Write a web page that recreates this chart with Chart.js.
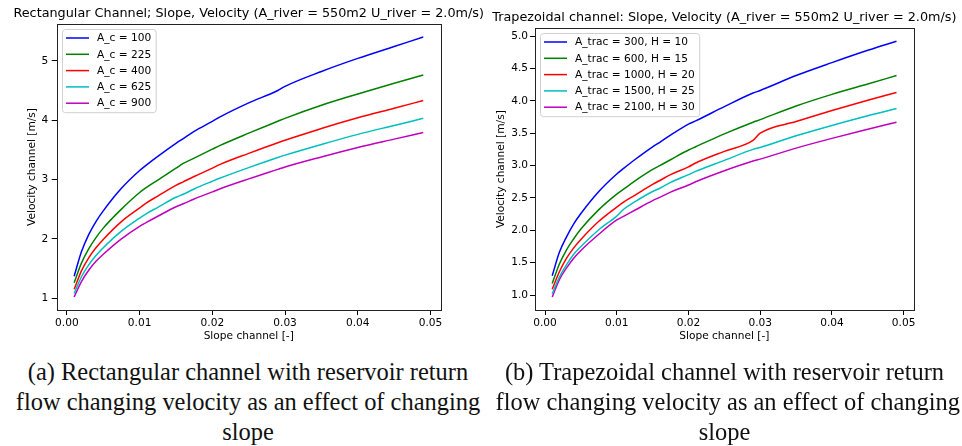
<!DOCTYPE html>
<html>
<head>
<meta charset="utf-8">
<script src="https://cdn.jsdelivr.net/npm/chart.js@4.4.0/dist/chart.umd.min.js"></script>
<style>
  body { margin: 0; background: #fff; }
  #page { position: relative; width: 962px; height: 446px; overflow: hidden; background: #fff; }
  .panel { position: absolute; top: 0; }
  .caption { position: absolute; top: 357px; font-family: 'Liberation Serif', serif; font-size: 26px; line-height: 30px; text-align: center; color: #111; white-space: nowrap; transform: scaleX(0.94); transform-origin: center top; }
</style>
</head>
<body>
<div id="page">
  <canvas id="rectChart" class="panel" width="490" height="346" style="left:0"></canvas>
  <canvas id="trapChart" class="panel" width="481" height="346" style="left:481px"></canvas>
  <div class="caption" style="left:0;width:496px">(a) Rectangular channel with reservoir return<br>flow changing velocity as an effect of changing<br>slope</div>
  <div class="caption" style="left:481px;width:487px">(b) Trapezoidal channel with reservoir return<br>flow changing velocity as an effect of changing<br>slope</div>
</div>
<script>
// Slope values shared by every curve
const slopes = [0.001, 0.002, 0.003, 0.004, 0.005, 0.0075, 0.01, 0.011, 0.0125, 0.015, 0.016,
    0.0175, 0.02, 0.021, 0.025, 0.029, 0.03, 0.035, 0.04, 0.045, 0.049];

// Rectangular channel, velocity for each channel area
const rectLabels = ['A_c = 100', 'A_c = 225', 'A_c = 400', 'A_c = 625', 'A_c = 900'];
const rectAc100 = [1.37, 1.78, 2.07, 2.29, 2.47, 2.85, 3.15, 3.25, 3.39, 3.61, 3.69, 3.81, 3.98, 4.05, 4.29, 4.50, 4.57, 4.82, 5.04, 5.24, 5.40];
const rectAc225 = [1.26, 1.59, 1.83, 2.02, 2.18, 2.50, 2.78, 2.87, 2.99, 3.19, 3.27, 3.36, 3.51, 3.57, 3.78, 3.98, 4.03, 4.25, 4.44, 4.62, 4.76];
const rectAc400 = [1.15, 1.46, 1.68, 1.85, 1.99, 2.29, 2.52, 2.61, 2.72, 2.90, 2.96, 3.05, 3.19, 3.25, 3.44, 3.62, 3.66, 3.86, 4.04, 4.20, 4.33];
const rectAc625 = [1.08, 1.36, 1.56, 1.72, 1.85, 2.13, 2.35, 2.43, 2.53, 2.70, 2.75, 2.84, 2.97, 3.02, 3.20, 3.37, 3.41, 3.59, 3.76, 3.91, 4.03];
const rectAc900 = [1.02, 1.28, 1.47, 1.62, 1.74, 2.00, 2.21, 2.28, 2.38, 2.54, 2.59, 2.67, 2.79, 2.84, 3.01, 3.17, 3.21, 3.38, 3.54, 3.68, 3.79];

// Trapezoidal channel, velocity for each area / height
const trapLabels = ['A_trac = 300, H = 10', 'A_trac = 600, H = 15', 'A_trac = 1000, H = 20',
    'A_trac = 1500, H = 25', 'A_trac = 2100, H = 30'];
const trap300 = [1.30, 1.66, 1.90, 2.10, 2.26, 2.60, 2.87, 2.96, 3.09, 3.29, 3.36, 3.47, 3.64, 3.69, 3.91, 4.12, 4.16, 4.39, 4.59, 4.78, 4.92];
const trap600 = [1.18, 1.48, 1.70, 1.87, 2.02, 2.32, 2.56, 2.64, 2.76, 2.94, 3.00, 3.09, 3.24, 3.29, 3.49, 3.67, 3.71, 3.92, 4.10, 4.26, 4.39];
const trap1000 = [1.09, 1.36, 1.57, 1.73, 1.86, 2.14, 2.36, 2.44, 2.54, 2.71, 2.77, 2.86, 2.98, 3.04, 3.22, 3.39, 3.50, 3.68, 3.85, 4.01, 4.13];
const trap1500 = [1.02, 1.28, 1.47, 1.63, 1.75, 2.01, 2.22, 2.33, 2.44, 2.60, 2.65, 2.74, 2.86, 2.91, 3.08, 3.25, 3.28, 3.46, 3.62, 3.77, 3.88];
const trap2100 = [0.97, 1.24, 1.42, 1.57, 1.69, 1.94, 2.16, 2.22, 2.31, 2.46, 2.51, 2.59, 2.70, 2.75, 2.92, 3.07, 3.10, 3.27, 3.42, 3.56, 3.67];

// Tick labels
const xTicks = [0, 0.01, 0.02, 0.03, 0.04, 0.05];
const rectYTicks = [1, 2, 3, 4, 5];
const trapYTicks = [1.0, 1.5, 2.0, 2.5, 3.0, 3.5, 4.0, 4.5, 5.0];

const lineColors = ['#0000ff', '#008000', '#ff0000', '#00bfbf', '#bf00bf'];
const FONT = "'DejaVu Sans', sans-serif";
const SMALL = 10.6;

// matplotlib-like box round the plot area
const framePlugin = {
    id: 'frame',
    afterDatasetsDraw(chart) {
        const a = chart.chartArea;
        const ctx = chart.ctx;
        ctx.save();
        ctx.strokeStyle = '#222';
        ctx.lineWidth = 1;
        ctx.strokeRect(Math.round(a.left) + 0.5, Math.round(a.top) + 0.5,
            Math.round(a.right - a.left), Math.round(a.bottom - a.top));
        ctx.restore();
    }
};

// title centred over the plot area (it is wider than the plot, like matplotlib)
const axesTitle = {
    id: 'axesTitle',
    afterDraw(chart, args, opts) {
        const a = chart.chartArea;
        const ctx = chart.ctx;
        ctx.save();
        ctx.font = '12.8px ' + FONT;
        ctx.fillStyle = '#000';
        ctx.textAlign = 'center';
        ctx.textBaseline = 'middle';
        ctx.fillText(opts.text, (a.left + a.right) / 2, opts.y);
        ctx.restore();
    }
};

// legend drawn inside the upper left corner, with a rounded box
const insideLegend = {
    id: 'insideLegend',
    afterDatasetsDraw(chart) {
        const ctx = chart.ctx;
        const a = chart.chartArea;
        const sets = chart.data.datasets;
        ctx.save();
        ctx.font = SMALL + 'px ' + FONT;
        var textW = 0;
        sets.forEach(ds => { textW = Math.max(textW, ctx.measureText(ds.label).width); });
        const x = Math.round(a.left) + 5.5, y = Math.round(a.top) + 5.5;
        const rowH = 16.3;
        const w = 34.5 + textW + 5, h = 8.5 + rowH * (sets.length - 1) + 9.5;
        ctx.beginPath();
        if (ctx.roundRect) {
            ctx.roundRect(x, y, w, h, 3);
        } else {
            ctx.rect(x, y, w, h);
        }
        ctx.fillStyle = 'rgba(255,255,255,0.8)';
        ctx.fill();
        ctx.strokeStyle = '#d0d0d0';
        ctx.lineWidth = 1;
        ctx.stroke();
        sets.forEach((ds, i) => {
            const cy = y + 8.5 + i * rowH;
            ctx.beginPath();
            ctx.moveTo(x + 3.5, cy);
            ctx.lineTo(x + 26.5, cy);
            ctx.strokeStyle = ds.borderColor;
            ctx.lineWidth = 1.5;
            ctx.stroke();
            ctx.fillStyle = '#000';
            ctx.textBaseline = 'middle';
            ctx.textAlign = 'left';
            ctx.fillText(ds.label, x + 34.5, cy + 0.5);
        });
        ctx.restore();
    }
};

function buildPanel(canvasId, title, labels, series, yRange, yTicks, yDecimals, box) {
    const datasets = series.map((values, i) => ({
        label: labels[i],
        data: values.map((v, k) => ({x: slopes[k], y: v})),
        borderColor: lineColors[i],
        borderWidth: 1.5,
        pointRadius: 0,
        cubicInterpolationMode: 'monotone',
        fill: false
    }));
    const tickFont = {family: FONT, size: SMALL};
    return new Chart(document.getElementById(canvasId), {
        type: 'line',
        data: {datasets: datasets},
        options: {
            responsive: false,
            animation: false,
            devicePixelRatio: 1,
            layout: {padding: {left: 0, right: box.padRight, top: box.top, bottom: 0}},
            plugins: {
                legend: {display: false},
                tooltip: {enabled: false},
                title: {display: false},
                axesTitle: {text: title, y: box.titleY}
            },
            scales: {
                x: {
                    type: 'linear',
                    min: -0.0014,
                    max: 0.0514,
                    afterFit: s => { s.height = 36; },
                    afterBuildTicks: s => { s.ticks = xTicks.map(v => ({value: v})); },
                    ticks: {
                        font: tickFont, color: '#000', padding: 2, maxRotation: 0, autoSkip: false,
                        callback: v => v.toFixed(2)
                    },
                    grid: {drawOnChartArea: false, drawTicks: true, tickLength: 5, tickColor: '#000'},
                    border: {display: false},
                    title: {
                        display: true, text: 'Slope channel [-]', color: '#000', font: tickFont,
                        padding: {top: 0, bottom: 3}
                    }
                },
                y: {
                    type: 'linear',
                    min: yRange[0],
                    max: yRange[1],
                    afterFit: s => { s.width = box.yWidth; },
                    afterBuildTicks: s => { s.ticks = yTicks.map(v => ({value: v})); },
                    ticks: {
                        font: tickFont, color: '#000', padding: box.yPad, autoSkip: false,
                        callback: v => v.toFixed(yDecimals)
                    },
                    grid: {drawOnChartArea: false, drawTicks: true, tickLength: 5, tickColor: '#000'},
                    border: {display: false},
                    title: {
                        display: true, text: 'Velocity channel [m/s]', color: '#000', font: tickFont,
                        padding: {top: box.yTitle, bottom: 0}
                    }
                }
            }
        },
        plugins: [framePlugin, insideLegend, axesTitle]
    });
}

buildPanel('rectChart', 'Rectangular Channel; Slope, Velocity (A_river = 550m2 U_river = 2.0m/s)',
    rectLabels, [rectAc100, rectAc225, rectAc400, rectAc625, rectAc900],
    [0.80, 5.62], rectYTicks, 0,
    {padRight: 49.3, top: 24, titleY: 13.3, yWidth: 56.7, yPad: 3.5, yTitle: 25.5});

buildPanel('trapChart', 'Trapezoidal channel: Slope, Velocity (A_river = 550m2 U_river = 2.0m/s)',
    trapLabels, [trap300, trap600, trap1000, trap1500, trap2100],
    [0.77, 5.12], trapYTicks, 1,
    {padRight: 48.3, top: 28.3, titleY: 17.3, yWidth: 54, yPad: 2, yTitle: 13.5});
</script>
</body>
</html>
